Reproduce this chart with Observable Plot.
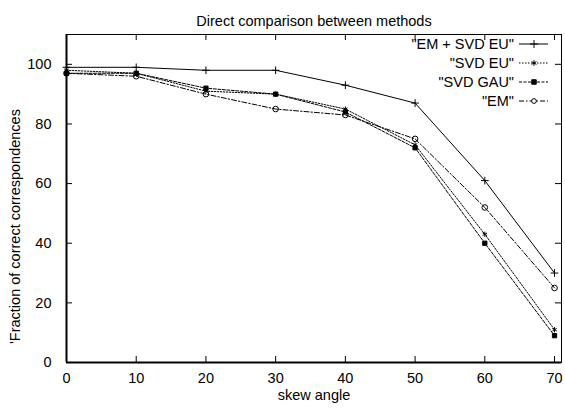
<!DOCTYPE html>
<html><head><meta charset="utf-8">
<script src="https://cdn.jsdelivr.net/npm/d3@7"></script>
<script src="https://cdn.jsdelivr.net/npm/@observablehq/plot@0.6"></script>
<style>body{margin:0;background:#fff} svg{display:block}</style>
</head><body><div id="chart"></div>
<script>
const titleText = "Direct comparison between methods";
const xLabel = "skew angle";
const yLabel = "'Fraction of correct correspondences";
const angles = [0, 10, 20, 30, 40, 50, 60, 70];
const seriesNames = ['"EM + SVD EU"', '"SVD EU"', '"SVD GAU"', '"EM"'];
const emSvdEu = [99, 99, 98, 98, 93, 87, 61, 30];
const svdEu   = [98, 97, 91, 90, 85, 73, 43, 11];
const svdGau  = [97, 97, 92, 90, 84, 72, 40, 9];
const em      = [97, 96, 90, 85, 83, 75, 52, 25];
const xTicks = [0, 10, 20, 30, 40, 50, 60, 70];
const yTicks = [0, 20, 40, 60, 80, 100];

const seriesValues = [emSvdEu, svdEu, svdGau, em];
const styles = [
  {dash: null, symbol: "plus", fill: "none", r: 2.6, ls: 22},
  {dash: "1.5,1.5", symbol: "asterisk", fill: "none", r: 2.4, ls: 22},
  {dash: "3,1.5", symbol: "square", fill: "black", r: 2.4, ls: 20},
  {dash: "5,2,1.5,2", symbol: "circle", fill: "none", r: 2.8, ls: 18}
];

const W = 565, H = 409, mL = 66, mR = 4, mT = 34, mB = 47;
const fw = W - mL - mR, fh = H - mT - mB;
const font = "'Liberation Sans', Arial, sans-serif";
const fs = 14.5;

const marks = [];
seriesNames.forEach((name, i) => {
  const data = angles.map((a, j) => ({x: a, y: seriesValues[i][j]}));
  marks.push(Plot.line(data, {x: "x", y: "y", stroke: "black", strokeWidth: 1, strokeDasharray: styles[i].dash}));
  marks.push(Plot.dot(data, {x: "x", y: "y", symbol: styles[i].symbol, r: styles[i].r, stroke: "black", strokeWidth: 1, fill: styles[i].fill}));
});

const chart = Plot.plot({
  width: W, height: H,
  marginLeft: mL, marginRight: mR, marginTop: mT, marginBottom: mB,
  x: {domain: [0, 71]},
  y: {domain: [0, 110]},
  style: {fontFamily: font, fontSize: fs + "px", color: "black", background: "white"},
  marks: [
    Plot.frame({stroke: "black", strokeWidth: 1}),
    Plot.ruleX([0], {stroke: "black", strokeWidth: 2}),
    Plot.ruleY([0], {stroke: "black", strokeWidth: 2}),
    Plot.tickX(xTicks, {x: d => d, insetTop: fh - 6, stroke: "black"}),
    Plot.tickX(xTicks, {x: d => d, insetBottom: fh - 6, stroke: "black"}),
    Plot.tickY(yTicks, {y: d => d, insetRight: fw - 6, stroke: "black"}),
    Plot.tickY(yTicks, {y: d => d, insetLeft: fw - 6, stroke: "black"}),
    Plot.axisX(xTicks, {tickSize: 0, tickPadding: 10, label: null, fontSize: fs}),
    Plot.axisY(yTicks, {tickSize: 0, tickPadding: 15, label: null, fontSize: fs}),
    ...marks,
    Plot.text([titleText], {frameAnchor: "top", text: d => d, dy: -19, fontSize: fs}),
    Plot.text([xLabel], {frameAnchor: "bottom", text: d => d, dy: 37, fontSize: fs}),
    Plot.text([yLabel], {frameAnchor: "left", text: d => d, textAnchor: "middle", rotate: -90, dx: -51, dy: 28, fontSize: fs})
  ]
});
document.getElementById("chart").appendChild(chart);

// legend (inside top-right of the frame)
const svg = d3.select(chart);
const lg = svg.append("g").attr("font-family", font).attr("font-size", fs);
const symbolType = {plus: d3.symbolPlus, asterisk: d3.symbolAsterisk, square: d3.symbolSquare, circle: d3.symbolCircle};
seriesNames.forEach((name, i) => {
  const yy = mT + 10 + i * 19;
  const st = styles[i];
  lg.append("text").attr("x", 514).attr("y", yy).attr("dy", "0.34em").attr("text-anchor", "end").text(name);
  lg.append("line").attr("x1", 519).attr("x2", 548).attr("y1", yy).attr("y2", yy)
    .attr("stroke", "black").attr("stroke-dasharray", st.dash);
  lg.append("path").attr("transform", `translate(534,${yy})`)
    .attr("d", d3.symbol(symbolType[st.symbol], st.ls)())
    .attr("stroke", "black").attr("fill", st.fill === "none" ? "white" : st.fill);
});
</script></body></html>
